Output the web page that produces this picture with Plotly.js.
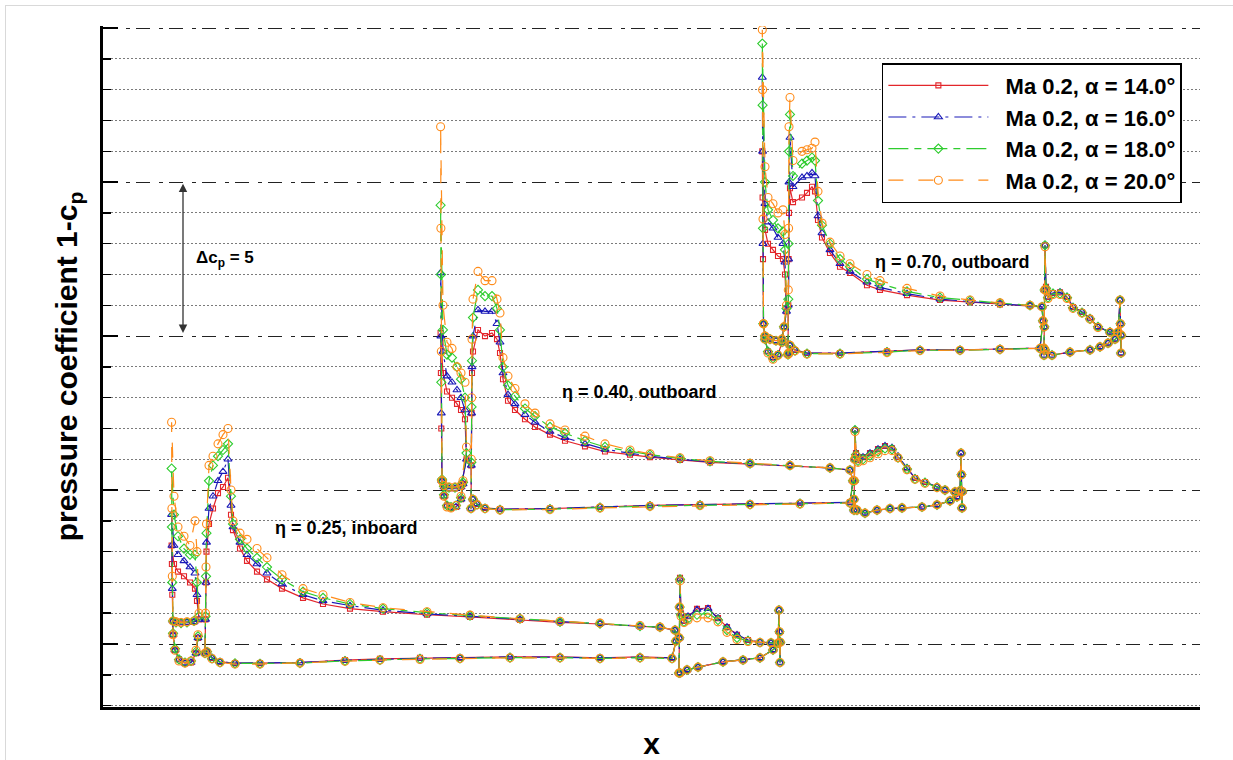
<!DOCTYPE html>
<html><head><meta charset="utf-8">
<script src="https://cdn.plot.ly/plotly-3.0.1.min.js"></script>
<style>
html,body{margin:0;padding:0;background:#fff;}
#chart{width:1233px;height:760px;}
#frame{position:absolute;left:5px;top:5px;right:0;bottom:0;border-top:1px solid #d9d9d9;border-left:1px solid #d9d9d9;pointer-events:none;}
</style>
</head><body>
<div id="chart"></div><div id="frame"></div>
<script>
// ---- tap positions (x) per wing section: slat | main | flap ----
const X25 = [198,196,191,185,179,175,173,172.3,171.9,171.6,174,178,184,190,195,197,199,194,187,181,176,173, null,
  205,205.5,206,206.5,209,213,218,223,228,231,233,240,247,257,267,282,303,323,350,383,427,470,520,560,600,640,660,675,676,672,640,600,560,510,460,420,380,345,300,260,235,220,212,207, null,
  679,679.3,679.6,680,681,684,688,697,708,718,727,737,748,760,771,778,779,779.5,780,780.3,773,760,743,723,698,687,680];
const X40 = [463,461,456,451,447,444,442,441.3,440.9,440.6,443,447,452,457,461,465,466.5,461,455,449,444,442, null,
  471,471.3,471.6,472,473,478,485,492,497,500,503,508,515,525,535,550,565,585,605,630,650,680,710,750,790,830,850,853,850,800,750,700,650,600,550,500,485,477,473, null,
  854,854.3,854.6,855,856,858,863,870,878,885,892,898,907,915,925,937,945,955,960,961,961.5,962,962.3,957,950,937,922,902,890,877,865,857,854];
const X70 = [784,782,778,773,768,765,763.5,763,762.6,762.3,765,768,773,778,783,785,786.5,782,776,770,765,763.5, null,
  788,788.3,788.6,789,790,793,802,807,812,815,818,822,830,840,850,867,880,907,940,970,1000,1030,1042,1043,1040,1000,960,920,887,840,807,795,790,788.5, null,
  1044,1044.3,1044.6,1045,1046,1048,1053,1060,1067,1073,1082,1090,1098,1110,1118,1120,1120.5,1121,1121.3,1115,1108,1100,1090,1070,1052,1045,1044];

// ---- 1-cp values, eta = 0.25 inboard ----
const CP25_A14 = [0.2,-0.3,-0.6,-0.62,-0.5,-0.2,0.3,1.6,2.6,3.2,2.6,2.35,2.2,2.0,1.8,1.4,0.8,0.72,0.72,0.7,0.72,0.75, null,
  -0.3,0.8,2.0,3.0,3.9,4.4,4.9,5.1,5.4,4.2,3.7,3.1,2.7,2.35,2.1,1.8,1.5,1.3,1.15,1.05,0.95,0.88,0.78,0.7,0.65,0.57,0.54,0.45,0.1,-0.45,-0.42,-0.45,-0.42,-0.42,-0.45,-0.45,-0.48,-0.52,-0.6,-0.62,-0.62,-0.58,-0.45,-0.25, null,
  -0.94,0.2,1.2,2.15,1.0,0.75,0.9,1.14,1.17,0.84,0.55,0.3,0.13,0.06,0.04,0.03,1.1,0.4,-0.6,0.06,-0.19,-0.45,-0.52,-0.58,-0.75,-0.84,-0.94];
const CP25_A16 = [0.2,-0.3,-0.6,-0.62,-0.5,-0.2,0.3,1.8,3.2,4.2,3.2,2.9,2.7,2.5,2.3,1.6,0.8,0.72,0.7,0.7,0.72,0.75, null,
  -0.3,0.8,2.0,3.3,4.4,4.8,5.3,5.6,6.0,4.5,3.8,3.3,2.9,2.6,2.3,1.95,1.6,1.4,1.25,1.1,0.98,0.9,0.8,0.72,0.66,0.58,0.55,0.45,0.1,-0.45,-0.43,-0.45,-0.43,-0.42,-0.45,-0.46,-0.5,-0.53,-0.6,-0.62,-0.62,-0.58,-0.45,-0.25, null,
  -0.94,0.2,1.2,2.1,1.0,0.75,0.9,1.12,1.15,0.84,0.55,0.3,0.13,0.06,0.04,0.03,1.1,0.4,-0.6,0.06,-0.19,-0.45,-0.52,-0.58,-0.75,-0.84,-0.94];
const CP25_A18 = [0.25,-0.25,-0.55,-0.6,-0.5,-0.15,0.35,2.0,3.8,5.7,4.2,3.5,3.1,2.9,2.9,2.0,0.9,0.75,0.7,0.68,0.7,0.75, null,
  -0.3,0.9,2.2,3.6,5.3,5.8,6.1,6.3,6.5,4.8,3.9,3.4,3.1,2.8,2.5,2.1,1.7,1.5,1.3,1.15,1.02,0.92,0.82,0.72,0.66,0.58,0.55,0.45,0.1,-0.47,-0.44,-0.47,-0.44,-0.44,-0.47,-0.48,-0.52,-0.55,-0.62,-0.64,-0.63,-0.6,-0.47,-0.25, null,
  -0.94,0.2,1.2,2.1,0.95,0.72,0.82,0.95,1.0,0.78,0.45,0.2,0.1,0.05,0.04,0.03,1.1,0.4,-0.6,0.06,-0.19,-0.45,-0.52,-0.58,-0.75,-0.84,-0.94];
const CP25_A20 = [0.3,-0.2,-0.55,-0.62,-0.55,-0.2,0.3,2.2,4.4,7.2,4.8,3.8,3.5,3.2,4.0,3.0,1.0,0.75,0.72,0.7,0.72,0.75, null,
  -0.3,1.0,2.5,3.9,5.8,6.1,6.5,6.8,7.0,5.0,4.0,3.6,3.4,3.1,2.8,2.25,1.8,1.6,1.35,1.18,1.05,0.94,0.82,0.74,0.68,0.6,0.55,0.45,0.1,-0.47,-0.45,-0.47,-0.45,-0.45,-0.47,-0.5,-0.52,-0.56,-0.62,-0.65,-0.65,-0.6,-0.48,-0.25, null,
  -0.94,0.2,1.2,2.05,0.9,0.7,0.78,0.85,0.85,0.72,0.38,0.15,0.08,0.05,0.04,0.03,1.1,0.4,-0.6,0.06,-0.19,-0.45,-0.52,-0.58,-0.75,-0.84,-0.94];

// ---- 1-cp values, eta = 0.40 outboard ----
const CP40_A14 = [0.2,-0.3,-0.55,-0.58,-0.5,-0.2,0.3,2.0,3.8,5.1,3.8,3.2,3.0,2.8,2.6,2.3,1.0,0.1,0.05,0.05,0.1,0.3, null,
  -0.6,0.8,2.5,3.8,4.5,5.2,5.0,5.1,4.9,4.45,3.6,2.9,2.6,2.3,2.05,1.8,1.6,1.42,1.25,1.15,1.07,0.98,0.9,0.84,0.78,0.72,0.65,0.3,-0.4,-0.42,-0.45,-0.47,-0.5,-0.55,-0.6,-0.62,-0.58,-0.45,-0.3, null,
  -0.65,0.3,1.0,1.95,1.2,0.97,1.07,1.2,1.33,1.43,1.36,1.07,0.71,0.39,0.26,0.1,0.0,-0.06,-0.02,1.2,0.5,-0.58,-0.05,-0.22,-0.35,-0.48,-0.55,-0.58,-0.6,-0.65,-0.75,-0.65,-0.3];
const CP40_A16 = [0.2,-0.3,-0.55,-0.58,-0.5,-0.2,0.3,2.5,5.0,7.05,4.5,3.7,3.5,3.25,3.0,2.6,1.0,0.1,0.05,0.05,0.1,0.3, null,
  -0.6,0.8,2.5,4.0,5.0,5.85,5.8,5.8,5.4,4.8,3.8,3.1,2.8,2.45,2.2,1.9,1.7,1.5,1.32,1.2,1.1,1.0,0.92,0.85,0.79,0.72,0.65,0.3,-0.4,-0.42,-0.45,-0.47,-0.5,-0.55,-0.6,-0.62,-0.58,-0.45,-0.3, null,
  -0.65,0.3,1.0,1.95,1.2,0.97,1.07,1.2,1.33,1.43,1.38,1.1,0.72,0.39,0.26,0.1,0.0,-0.06,-0.02,1.2,0.5,-0.58,-0.05,-0.22,-0.35,-0.48,-0.55,-0.58,-0.6,-0.65,-0.75,-0.65,-0.3];
const CP40_A18 = [0.25,-0.25,-0.5,-0.55,-0.5,-0.15,0.35,3.5,7.0,9.25,5.2,4.4,4.3,4.0,3.6,3.0,1.2,0.15,0.08,0.08,0.12,0.3, null,
  -0.6,0.9,2.7,4.2,5.6,6.5,6.3,6.3,5.9,5.2,4.0,3.4,3.05,2.65,2.4,2.05,1.85,1.6,1.4,1.25,1.15,1.03,0.93,0.86,0.8,0.72,0.65,0.3,-0.42,-0.44,-0.47,-0.49,-0.52,-0.57,-0.62,-0.64,-0.6,-0.47,-0.3, null,
  -0.65,0.3,1.0,1.95,1.15,0.95,1.0,1.12,1.25,1.35,1.32,1.05,0.68,0.36,0.24,0.09,0.0,-0.06,-0.02,1.2,0.5,-0.58,-0.05,-0.22,-0.35,-0.48,-0.55,-0.58,-0.6,-0.65,-0.75,-0.65,-0.3];
const CP40_A20 = [0.3,-0.2,-0.5,-0.58,-0.55,-0.2,0.3,4.5,8.5,11.8,6.0,4.8,4.6,4.0,3.8,3.5,1.4,0.15,0.1,0.1,0.15,0.3, null,
  -0.6,1.0,3.0,4.9,6.2,7.1,6.8,6.8,6.2,5.75,4.3,3.7,3.3,2.8,2.5,2.15,1.95,1.75,1.5,1.3,1.18,1.05,0.95,0.87,0.8,0.72,0.65,0.3,-0.42,-0.45,-0.47,-0.5,-0.53,-0.58,-0.63,-0.65,-0.6,-0.48,-0.3, null,
  -0.65,0.3,1.0,1.9,1.1,0.9,0.95,1.05,1.18,1.28,1.28,1.05,0.66,0.35,0.22,0.08,0.0,-0.06,-0.02,1.2,0.5,-0.58,-0.05,-0.22,-0.35,-0.48,-0.55,-0.58,-0.6,-0.65,-0.75,-0.65,-0.3];

// ---- 1-cp values, eta = 0.70 outboard ----
const CP70_A14 = [0.3,-0.2,-0.6,-0.7,-0.5,-0.1,0.4,2.5,4.5,6.0,3.45,3.0,2.8,2.6,2.5,2.0,0.8,-0.1,-0.15,-0.1,0.0,0.4, null,
  -0.6,1.0,2.5,4.0,4.8,4.35,4.5,4.65,4.85,4.7,3.77,3.2,2.7,2.25,2.05,1.65,1.5,1.33,1.17,1.1,1.03,0.98,0.95,0.5,-0.39,-0.42,-0.45,-0.45,-0.5,-0.55,-0.55,-0.45,-0.3,-0.55, null,
  -0.62,0.3,1.5,2.95,1.6,1.27,1.4,1.42,1.27,0.94,0.78,0.58,0.3,0.13,0.13,1.17,0.4,-0.55,0.03,-0.1,-0.23,-0.35,-0.45,-0.52,-0.62,-0.45,-0.39];
const CP70_A16 = [0.3,-0.2,-0.6,-0.7,-0.5,-0.1,0.4,3.0,6.0,8.4,4.3,3.7,3.5,3.2,3.0,2.4,0.8,-0.1,-0.15,-0.1,0.0,0.4, null,
  -0.6,1.0,2.5,5.0,6.45,4.85,5.15,5.2,5.3,5.2,3.9,3.35,2.8,2.35,2.1,1.75,1.58,1.38,1.2,1.12,1.05,1.0,0.95,0.5,-0.39,-0.42,-0.45,-0.45,-0.5,-0.55,-0.55,-0.45,-0.3,-0.55, null,
  -0.62,0.3,1.5,2.95,1.6,1.27,1.4,1.43,1.28,0.95,0.78,0.58,0.3,0.13,0.13,1.17,0.4,-0.55,0.03,-0.1,-0.23,-0.35,-0.45,-0.52,-0.62,-0.45,-0.39];
const CP70_A18 = [0.3,-0.2,-0.62,-0.72,-0.5,-0.1,0.4,3.5,7.5,9.5,5.0,4.1,3.77,3.5,3.4,2.8,0.9,-0.1,-0.15,-0.1,0.0,0.4, null,
  -0.6,1.2,3.0,6.0,7.2,5.2,5.6,5.7,5.8,5.7,4.4,3.6,3.0,2.5,2.25,1.85,1.7,1.45,1.25,1.15,1.07,1.0,0.95,0.5,-0.4,-0.43,-0.46,-0.46,-0.52,-0.57,-0.57,-0.47,-0.3,-0.55, null,
  -0.62,0.3,1.5,2.95,1.55,1.25,1.38,1.38,1.25,0.92,0.76,0.56,0.3,0.13,0.13,1.17,0.4,-0.55,0.03,-0.1,-0.23,-0.35,-0.45,-0.52,-0.62,-0.45,-0.39];
const CP70_A20 = [0.3,-0.2,-0.62,-0.75,-0.55,-0.1,0.4,3.8,8.0,9.95,5.5,4.5,4.3,4.0,4.1,3.3,1.0,-0.1,-0.15,-0.1,0.0,0.4, null,
  -0.6,1.5,3.5,6.8,7.75,5.7,6.0,6.05,6.1,6.3,4.7,3.67,3.05,2.6,2.35,2.0,1.8,1.55,1.3,1.17,1.08,1.0,0.95,0.5,-0.4,-0.43,-0.46,-0.47,-0.53,-0.58,-0.58,-0.48,-0.3,-0.55, null,
  -0.62,0.3,1.5,2.9,1.5,1.22,1.35,1.35,1.22,0.9,0.75,0.55,0.28,0.12,0.13,1.17,0.4,-0.55,0.03,-0.1,-0.23,-0.35,-0.45,-0.52,-0.62,-0.45,-0.39];

const SECTION_X = [X25, X40, X70];
const SECTION_SHIFT = [0, 5, 10];   // stacking offset, delta cp = 5
const SERIES_NAMES = ['Ma 0.2, \u03b1 = 14.0\u00b0','Ma 0.2, \u03b1 = 16.0\u00b0','Ma 0.2, \u03b1 = 18.0\u00b0','Ma 0.2, \u03b1 = 20.0\u00b0'];
const SERIES_DATA = [[CP25_A14,CP40_A14,CP70_A14],[CP25_A16,CP40_A16,CP70_A16],[CP25_A18,CP40_A18,CP70_A18],[CP25_A20,CP40_A20,CP70_A20]];
const SERIES_STYLE = [
  {color:'#e3262b', dash:'solid', symbol:'square-open', size:5},
  {color:'#1a1ab8', dash:'18px,6px,3px,6px', symbol:'triangle-up-open', size:7},
  {color:'#2ecc2e', dash:'20px,6px,7px,6px', symbol:'diamond-open', size:7},
  {color:'#ff8c1a', dash:'15px,15px', symbol:'circle-open', size:8}
];

const traces = [];
SERIES_DATA.forEach((secs, s) => {
  const st = SERIES_STYLE[s];
  secs.forEach((vals, k) => {
    if (vals.length !== SECTION_X[k].length) console.log('length mismatch', s, k, vals.length, SECTION_X[k].length);
    traces.push({
      type:'scatter', mode:'lines+markers',
      x: SECTION_X[k],
      y: vals.map(v => v === null ? null : v + SECTION_SHIFT[k]),
      name: '\u00a0\u00a0' + SERIES_NAMES[s],
      legendgroup: 'g' + s, showlegend: k === 0, connectgaps:false,
      line:{color:st.color, width:1.2, dash:st.dash},
      marker:{symbol:st.symbol, size:st.size, color:st.color, line:{width:1.1, color:st.color}}
    });
  });
});

const FONT = 'Liberation Sans, Arial, Helvetica, sans-serif';
const layout = {
  width:1233, height:760,
  margin:{l:103, r:33, t:26, b:53},
  paper_bgcolor:'#ffffff', plot_bgcolor:'#ffffff',
  font:{family:FONT, color:'#000'},
  showlegend:true,
  xaxis:{range:[103,1200], showgrid:false, zeroline:false, showline:true, linewidth:3, linecolor:'#000',
         ticks:'', showticklabels:false, fixedrange:true,
         title:{text:'x', font:{family:FONT, size:30, weight:'bold'}, standoff:24}},
  yaxis:{range:[-2.045,20.07], tick0:0, dtick:5, showgrid:true, gridcolor:'#222', gridwidth:1,
         griddash:'14px,9px,4px,6px', zeroline:false, showline:true, linewidth:3, linecolor:'#000',
         ticks:'inside', ticklen:15, tickwidth:2, tickcolor:'#000', showticklabels:false, fixedrange:true,
         minor:{dtick:1, tick0:0, showgrid:true, gridcolor:'#7a7a7a', gridwidth:1, griddash:'2px,2px',
                ticks:'inside', ticklen:8, tickwidth:1.5, tickcolor:'#000'},
         title:{text:'pressure coefficient 1-c<sub>p</sub>', font:{family:FONT, size:30, weight:'bold'}, standoff:14}},
  legend:{x:0.71, y:0.9455, xanchor:'left', yanchor:'top', bgcolor:'#fff', bordercolor:'#000', borderwidth:1.5,
          font:{family:FONT, size:22, weight:'bold'}, itemwidth:100, tracegroupgap:0, traceorder:'normal'},
  annotations:[
    {x:183, y:14.95, ax:183, ay:10.05, xref:'x', yref:'y', axref:'x', ayref:'y', text:'', showarrow:true,
     arrowhead:2, arrowside:'end+start', arrowsize:1.3, arrowwidth:1.3, arrowcolor:'#333', standoff:0, startstandoff:0},
    {x:194, y:12.5, xref:'x', yref:'y', xanchor:'left', showarrow:false, text:'<b>\u0394c<sub>p</sub> = 5</b>', font:{family:FONT, size:17}},
    {x:273, y:3.77, xref:'x', yref:'y', xanchor:'left', showarrow:false, text:'<b>\u03b7 = 0.25, inboard</b>', font:{family:FONT, size:18}},
    {x:560, y:8.18, xref:'x', yref:'y', xanchor:'left', showarrow:false, text:'<b>\u03b7 = 0.40, outboard</b>', font:{family:FONT, size:18}},
    {x:873, y:12.4, xref:'x', yref:'y', xanchor:'left', showarrow:false, text:'<b>\u03b7 = 0.70, outboard</b>', font:{family:FONT, size:18}}
  ]
};

Plotly.newPlot('chart', traces, layout, {displayModeBar:false, staticPlot:true});
</script>
</body></html>
